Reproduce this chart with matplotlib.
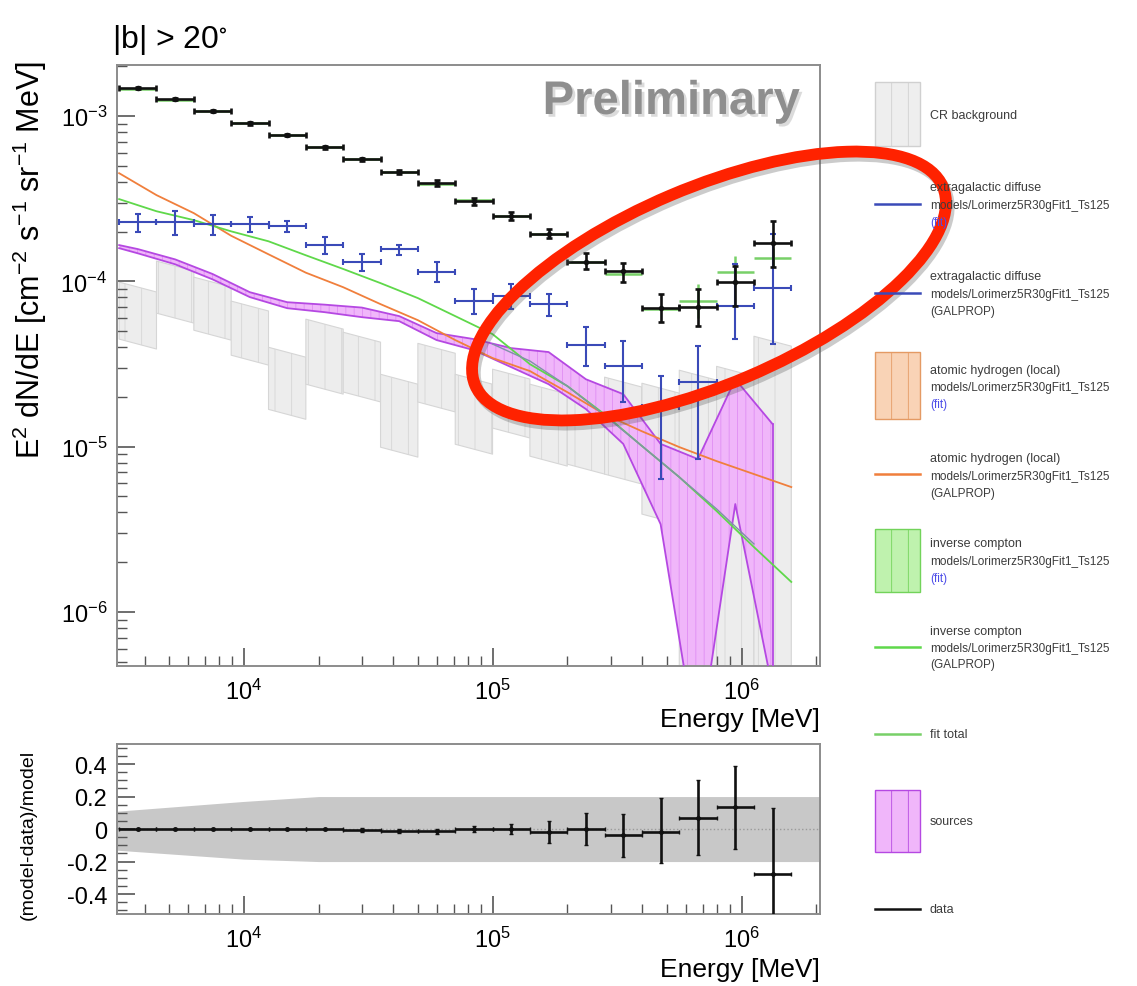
import numpy as np
import matplotlib
matplotlib.use("Agg")
import matplotlib.pyplot as plt
import matplotlib.patheffects as pe
from matplotlib.patches import Ellipse, Rectangle
from matplotlib.ticker import LogLocator, NullFormatter, MultipleLocator, FuncFormatter

plt.rcParams["font.family"] = ["Liberation Sans", "DejaVu Sans"]
plt.rcParams["mathtext.default"] = "regular"
plt.rcParams["axes.unicode_minus"] = False
plt.rcParams["hatch.linewidth"] = 0.6

# energy binning (MeV)
bin_edges = [3162, 4467, 6310, 8913, 12589, 17783, 25119, 35481, 50119, 70795,
             100000, 141254, 199526, 281838, 398107, 562341, 794328, 1122018, 1584893]

# data, E^2 dN/dE
data = [1.48e-3, 1.27e-3, 1.07e-3, 9.07e-4, 7.68e-4, 6.49e-4, 5.50e-4, 4.58e-4, 3.93e-4,
        3.06e-4, 2.48e-4, 1.95e-4, 1.32e-4, 1.15e-4, 6.95e-5, 7.05e-5, 9.86e-5, 1.72e-4]
data_lo = [1.46e-3, 1.25e-3, 1.055e-3, 8.9e-4, 7.55e-4, 6.35e-4, 5.37e-4, 4.45e-4, 3.77e-4,
           2.92e-4, 2.35e-4, 1.82e-4, 1.19e-4, 9.91e-5, 5.68e-5, 5.37e-5, 7.10e-5, 1.22e-4]
data_hi = [1.50e-3, 1.29e-3, 1.085e-3, 9.2e-4, 7.8e-4, 6.6e-4, 5.62e-4, 4.7e-4, 4.1e-4,
           3.2e-4, 2.62e-4, 2.09e-4, 1.48e-4, 1.29e-4, 8.38e-5, 8.97e-5, 1.24e-4, 2.32e-4]

# fit total per bin
fit_total = [1.47e-3, 1.26e-3, 1.07e-3, 9.1e-4, 7.7e-4, 6.5e-4, 5.5e-4, 4.6e-4, 3.9e-4,
             3.1e-4, 2.5e-4, 1.95e-4, 1.32e-4, 1.11e-4, 6.85e-5, 7.6e-5, 1.14e-4, 1.38e-4]
fit_lo = fit_total[:15] + [6.0e-5, 9.5e-5, 1.2e-4]
fit_hi = fit_total[:15] + [9.6e-5, 1.42e-4, 1.6e-4]

# extragalactic diffuse (fit)
egb = [2.29e-4, 2.29e-4, 2.22e-4, 2.22e-4, 2.16e-4, 1.66e-4, 1.31e-4, 1.57e-4, 1.14e-4,
       7.60e-5, 8.15e-5, 7.29e-5, 4.12e-5, 3.08e-5, 1.74e-5, 2.46e-5, 7.10e-5, 9.10e-5]
egb_lo = [1.99e-4, 1.91e-4, 1.91e-4, 1.99e-4, 1.99e-4, 1.46e-4, 1.15e-4, 1.44e-4, 9.91e-5,
          6.34e-5, 6.79e-5, 6.17e-5, 3.08e-5, 1.86e-5, 6.37e-6, 8.42e-6, 4.48e-5, 4.18e-5]
egb_hi = [2.55e-4, 2.66e-4, 2.52e-4, 2.45e-4, 2.32e-4, 1.85e-4, 1.46e-4, 1.66e-4, 1.31e-4,
          8.97e-5, 9.64e-5, 8.38e-5, 5.30e-5, 4.35e-5, 2.67e-5, 4.06e-5, 1.27e-4, 1.93e-4]

# CR background band per bin (value at bin centre) and in-bin spectral slope
cr_hi = [9.25e-5, 1.24e-4, 9.91e-5, 7.10e-5, 3.73e-5, 5.52e-5, 4.60e-5, 2.56e-5, 3.94e-5,
         2.56e-5, 2.75e-5, 2.23e-5, 2.08e-5, 2.46e-5, 2.26e-5, 2.71e-5, 2.86e-5, 4.35e-5]
cr_lo = [4.18e-5, 6.00e-5, 4.73e-5, 3.34e-5, 1.57e-5, 2.23e-5, 2.00e-5, 9.27e-6, 1.74e-5,
         9.66e-6, 1.21e-5, 8.18e-6, 7.32e-6, 6.37e-6, 3.65e-6, 1.0e-7, 1.0e-7, 1.0e-7]
CR_SLOPE = -0.4

# GALPROP model curves, sampled at the bin edges
hi_local = [4.52e-4, 3.33e-4, 2.59e-4, 1.89e-4, 1.46e-4, 1.13e-4, 9.23e-5, 7.29e-5, 5.83e-5,
            4.42e-5, 3.44e-5, 2.87e-5, 2.14e-5, 1.57e-5, 1.24e-5, 9.95e-6, 8.18e-6, 6.83e-6, 5.70e-6]
inv_compton = [3.15e-4, 2.66e-4, 2.35e-4, 2.01e-4, 1.75e-4, 1.44e-4, 1.19e-4, 9.77e-5, 7.93e-5,
               6.17e-5, 4.80e-5, 3.16e-5, 2.33e-5, 1.57e-5, 1.01e-5, 6.55e-6, 4.08e-6, 2.47e-6, 1.52e-6]
# extragalactic GALPROP curve, bin edges 10..17
egb_galprop = [4.18e-5, 3.30e-5, 2.33e-5, 1.55e-5, 1.01e-5, 6.55e-6, 4.20e-6, 2.58e-6]

# sources band: left edge then bin centres
src_hi = [1.66e-4, 1.57e-4, 1.36e-4, 1.11e-4, 8.61e-5, 7.49e-5, 7.24e-5, 6.95e-5, 6.17e-5, 4.87e-5,
          4.48e-5, 3.95e-5, 3.74e-5, 2.56e-5, 2.08e-5, 1.04e-5, 8.42e-6, 2.56e-5, 1.37e-5]
src_lo = [1.59e-4, 1.48e-4, 1.27e-4, 1.03e-4, 8.04e-5, 6.89e-5, 6.52e-5, 6.08e-5, 5.75e-5, 4.42e-5,
          3.84e-5, 3.03e-5, 2.39e-5, 1.69e-5, 1.04e-5, 3.40e-6, 1.40e-7, 4.50e-6, 3.42e-7]

# residuals (model-data)/model
resid = [0.0, 0.0, 0.0, 0.0, 0.0, 0.0, -0.005, -0.013, -0.013, 0.0, 0.0, -0.016,
         0.0, -0.035, -0.016, 0.07, 0.135, -0.275]
resid_up = [0.005, 0.005, 0.005, 0.006, 0.007, 0.008, 0.01, 0.012, 0.015, 0.02, 0.03, 0.065,
            0.1, 0.125, 0.206, 0.23, 0.255, 0.405]
resid_dn = [0.005, 0.005, 0.005, 0.006, 0.007, 0.008, 0.01, 0.012, 0.015, 0.02, 0.03, 0.07,
            0.1, 0.135, 0.194, 0.23, 0.255, 0.3]
band_e = [3100, 10000, 20000, 2.1e6]
band_hi = [0.11, 0.17, 0.2, 0.2]
band_lo = [-0.13, -0.185, -0.2, -0.2]

MODEL = "models/Lorimerz5R30gFit1_Ts125"
E_MIN, E_MAX = 3100, 2.067e6

edges = np.array(bin_edges, dtype=float)
centers = np.sqrt(edges[:-1] * edges[1:])
xerr = [centers - edges[:-1], edges[1:] - centers]

fig = plt.figure(figsize=(11.37, 9.87), dpi=100)
ax = fig.add_axes([0.1029, 0.3242, 0.6183, 0.6089])
axr = fig.add_axes([0.1029, 0.0729, 0.6183, 0.1722])

for a in (ax, axr):
    a.set_xscale("log")
    a.set_xlim(E_MIN, E_MAX)
    for s in a.spines.values():
        s.set_color("#8c8c8c")
        s.set_linewidth(1.4)
    a.tick_params(which="both", direction="in", top=False, right=False,
                  color="#555555", labelsize=17, pad=9)
    a.tick_params(which="major", length=13, width=1.2)
    a.tick_params(which="minor", length=7, width=1.0)
    a.xaxis.set_major_locator(LogLocator(base=10, numticks=10))
    a.xaxis.set_minor_locator(LogLocator(base=10, subs=np.arange(2, 10), numticks=20))
    a.xaxis.set_minor_formatter(NullFormatter())

ax.set_yscale("log")
ax.set_ylim(4.71e-7, 2.04e-3)
ax.yaxis.set_minor_locator(LogLocator(base=10, subs=np.arange(2, 10), numticks=20))
ax.yaxis.set_minor_formatter(NullFormatter())
ax.tick_params(axis="y", pad=7)

# CR background boxes
for lo, hi, top, bot in zip(edges[:-1], edges[1:], cr_hi, cr_lo):
    c = np.sqrt(lo * hi)
    xs = np.array([lo, hi])
    ax.fill_between(xs, bot * (xs / c) ** CR_SLOPE, top * (xs / c) ** CR_SLOPE,
                    facecolor="#ededed", edgecolor="#d6d6d6", hatch="|", lw=0.8, zorder=1)

# sources band
src_e = np.concatenate([[edges[0]], centers])
ax.fill_between(src_e, src_lo, src_hi, facecolor="#f0b6fa", edgecolor="#e08ef4",
                hatch="||", lw=0, zorder=2)
ax.plot(src_e, src_hi, color="#b548e2", lw=1.3, zorder=3)
ax.plot(src_e, src_lo, color="#b548e2", lw=1.3, zorder=3)
ax.plot([src_e[-1], src_e[-1]], [src_lo[-1], src_hi[-1]], color="#b548e2", lw=1.3, zorder=3)

# model curves
ax.plot(edges, hi_local, color="#f07f3c", lw=1.3, zorder=4)
ax.plot(edges, inv_compton, color="#5fd84a", lw=1.3, zorder=4)
ax.plot(edges[10:18], egb_galprop, color="#8090a8", lw=1.0, zorder=4)

# fit total
ax.errorbar(centers, fit_total, xerr=xerr,
            yerr=[np.array(fit_total) - fit_lo, np.array(fit_hi) - fit_total],
            fmt="none", ecolor="#78d068", elinewidth=1.8, zorder=5)

# extragalactic diffuse (fit)
ax.errorbar(centers, egb, xerr=xerr,
            yerr=[np.array(egb) - egb_lo, np.array(egb_hi) - egb],
            fmt="none", ecolor="#3a4ab8", elinewidth=1.5, capsize=2, capthick=1.5, zorder=6)

# data
ax.errorbar(centers, data, xerr=xerr,
            yerr=[np.array(data) - data_lo, np.array(data_hi) - data],
            fmt="o", ms=3, color="#111111", elinewidth=1.9, capsize=2, capthick=1.9, zorder=7)

# residual panel
axr.set_ylim(-0.523, 0.523)
axr.fill_between(band_e, band_lo, band_hi, color="#c8c8c8", lw=0, zorder=1)
axr.axhline(0, color="#9a9a9a", ls=":", lw=1.0, zorder=2)
axr.errorbar(centers, resid, xerr=xerr, yerr=[resid_dn, resid_up], fmt="o", ms=2.5,
             color="#111111", elinewidth=1.9, capsize=1.5, zorder=3)
axr.yaxis.set_major_locator(MultipleLocator(0.2))
axr.yaxis.set_minor_locator(MultipleLocator(0.05))
axr.yaxis.set_major_formatter(FuncFormatter(lambda v, p: f"{v:.1f}" if abs(v) > 1e-9 else "0"))
axr.tick_params(axis="y", pad=7)

# labels
fig.text(30 / 1137, 1 - 260 / 987, r"E$^{2}$ dN/dE [cm$^{-2}$ s$^{-1}$ sr$^{-1}$ MeV]",
         rotation=90, ha="center", va="center", fontsize=22)
fig.text(28 / 1137, 1 - 835 / 987, "(model-data)/model", rotation=90,
         ha="center", va="center", fontsize=14)
fig.text(820 / 1137, 1 - 720 / 987, "Energy [MeV]", ha="right", va="center", fontsize=19)
fig.text(820 / 1137, 1 - 970 / 987, "Energy [MeV]", ha="right", va="center", fontsize=19)
fig.text(112 / 1137, 1 - 40 / 987, r"|b| > 20$^{\circ}$", ha="left", va="center", fontsize=23)
fig.text(800 / 1137, 1 - 103 / 987, "Preliminary", ha="right", va="center", fontsize=34,
         weight="bold", color="#8e8e8e",
         path_effects=[pe.SimplePatchShadow(offset=(2, -2), shadow_rgbFace="#c4c4c4", alpha=0.6),
                       pe.Normal()])

# overlay in pixel coordinates: legend and highlight ellipse
ov = fig.add_axes([0, 0, 1, 1], zorder=10)
ov.set_xlim(0, 1137)
ov.set_ylim(987, 0)
ov.axis("off")

TXT = "#3c3c3c"
FITC = "#4d4de8"


def legend_text(lines, ys):
    for i, (t, y) in enumerate(zip(lines, ys)):
        col = FITC if t == "(fit)" else TXT
        ov.text(930, y, t, ha="left", va="center", fontsize=9 if i == 0 else 8.5, color=col)


def legend_box(y0, y1, face, edge):
    ov.add_patch(Rectangle((875, y0), 45, y1 - y0, facecolor=face, edgecolor=edge,
                           hatch="|", lw=1.0))


def legend_line(y, color):
    ov.plot([875, 920], [y, y], color=color, lw=1.8)


legend_box(83, 147, "#eeeeee", "#d0d0d0")
legend_text(["CR background"], [116])
legend_line(205, "#3a4ab8")
legend_text(["extragalactic diffuse", MODEL, "(fit)"], [188, 206, 223])
legend_line(294, "#3a4ab8")
legend_text(["extragalactic diffuse", MODEL, "(GALPROP)"], [277, 295, 312])
legend_box(353, 420, "#f9d3b6", "#e49a64")
legend_text(["atomic hydrogen (local)", MODEL, "(fit)"], [371, 388, 405])
legend_line(475, "#f07f3c")
legend_text(["atomic hydrogen (local)", MODEL, "(GALPROP)"], [459, 477, 494])
legend_box(530, 593, "#bff2ae", "#72d35a")
legend_text(["inverse compton", MODEL, "(fit)"], [544, 562, 579])
legend_line(648, "#5fd84a")
legend_text(["inverse compton", MODEL, "(GALPROP)"], [632, 649, 665])
legend_line(735, "#78d068")
legend_text(["fit total"], [735])
legend_box(791, 853, "#f0b6fa", "#b548e2")
legend_text(["sources"], [822])
legend_line(910, "#111111")
legend_text(["data"], [910])

ell = Ellipse((709, 287), width=508, height=197, angle=-23, fill=False,
              edgecolor="#ff2200", lw=8.5,
              path_effects=[pe.SimpleLineShadow(offset=(2, -3), shadow_color="#555555", alpha=0.3),
                            pe.Normal()])
ov.add_patch(ell)

fig.savefig("out.png", dpi=100)
